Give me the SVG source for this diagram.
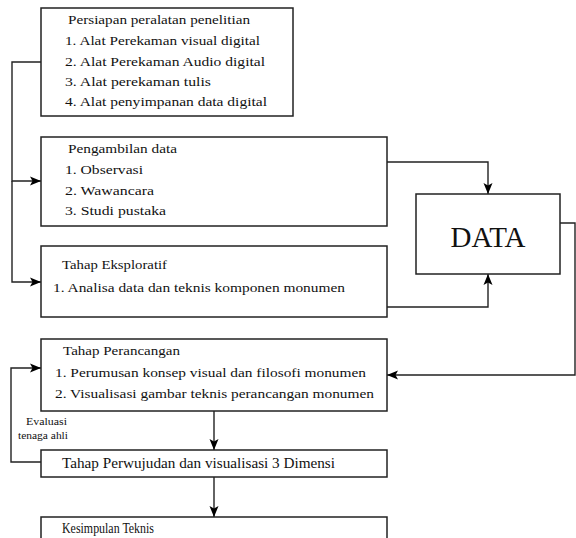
<svg xmlns="http://www.w3.org/2000/svg" width="576" height="538" viewBox="0 0 576 538">
<defs>
<marker id="ah" viewBox="0 0 11 10" refX="11" refY="5" markerWidth="11" markerHeight="10" markerUnits="userSpaceOnUse" orient="auto">
<path d="M0,0.5 L11,5 L0,9.5 L2.5,5 Z" fill="#000"/>
</marker>
</defs>
<style>
.box{fill:#fff;stroke:#222;stroke-width:1.5}
.t{font-family:"Liberation Serif","Times New Roman",serif;font-size:13px;fill:#111}
.p{font-family:"Liberation Serif","Times New Roman",serif;font-size:14.5px;fill:#111}
.s{font-family:"Liberation Serif",serif;font-size:10px;fill:#111}
.big{font-family:"Liberation Serif",serif;font-size:29px;fill:#111}
.c{fill:none;stroke:#222;stroke-width:1.4}
</style>
<rect width="576" height="538" fill="#fff"/>
<g id="connectors">
<path class="c" d="M41,62 H12 V181 H41" marker-end="url(#ah)"/>
<path class="c" d="M12,181 V282 H41" marker-end="url(#ah)"/>
<path class="c" d="M387,162 H488 V194" marker-end="url(#ah)"/>
<path class="c" d="M387,307 H488 V274" marker-end="url(#ah)"/>
<path class="c" d="M560,223 H575 V375 H387" marker-end="url(#ah)"/>
<path class="c" d="M214,411 V450" marker-end="url(#ah)"/>
<path class="c" d="M214,477 V517" marker-end="url(#ah)"/>
<path class="c" d="M41,462 H11 V368 H41" marker-end="url(#ah)"/>
<text class="s" x="26" y="425" textLength="41" lengthAdjust="spacingAndGlyphs">Evaluasi</text>
<text class="s" x="18" y="439" textLength="50" lengthAdjust="spacingAndGlyphs">tenaga ahli</text>
</g>
<g id="n1">
<rect class="box" x="41" y="8" width="252" height="108"/>
<text class="t" x="68" y="24" textLength="182" lengthAdjust="spacingAndGlyphs">Persiapan peralatan penelitian</text>
<text class="t" x="65" y="45" textLength="195" lengthAdjust="spacingAndGlyphs">1. Alat Perekaman visual digital</text>
<text class="t" x="65" y="66" textLength="200" lengthAdjust="spacingAndGlyphs">2. Alat Perekaman Audio digital</text>
<text class="t" x="65" y="86" textLength="146" lengthAdjust="spacingAndGlyphs">3. Alat perekaman tulis</text>
<text class="t" x="65" y="106" textLength="202" lengthAdjust="spacingAndGlyphs">4. Alat penyimpanan data digital</text>
</g>
<g id="n2">
<rect class="box" x="41" y="137" width="346" height="89"/>
<text class="t" x="68" y="153" textLength="109" lengthAdjust="spacingAndGlyphs">Pengambilan data</text>
<text class="t" x="65" y="174" textLength="78" lengthAdjust="spacingAndGlyphs">1. Observasi</text>
<text class="t" x="65" y="195" textLength="89" lengthAdjust="spacingAndGlyphs">2. Wawancara</text>
<text class="t" x="65" y="215" textLength="101" lengthAdjust="spacingAndGlyphs">3. Studi pustaka</text>
</g>
<g id="n3">
<rect class="box" x="41" y="246" width="346" height="71"/>
<text class="t" x="62" y="269" textLength="105" lengthAdjust="spacingAndGlyphs">Tahap Eksploratif</text>
<text class="t" x="53" y="292" textLength="292" lengthAdjust="spacingAndGlyphs">1. Analisa data dan teknis komponen monumen</text>
</g>
<g id="data">
<rect class="box" x="416" y="194" width="144" height="80"/>
<text class="big" x="488" y="247" text-anchor="middle">DATA</text>
</g>
<g id="n4">
<rect class="box" x="41" y="339" width="346" height="72"/>
<text class="t" x="63" y="355" textLength="117" lengthAdjust="spacingAndGlyphs">Tahap Perancangan</text>
<text class="t" x="55" y="377" textLength="311" lengthAdjust="spacingAndGlyphs">1. Perumusan konsep visual dan filosofi monumen</text>
<text class="t" x="55" y="398" textLength="319" lengthAdjust="spacingAndGlyphs">2. Visualisasi gambar teknis perancangan monumen</text>
</g>
<g id="n5">
<rect class="box" x="41" y="450" width="346" height="27"/>
<text class="p" x="62" y="468" textLength="273" lengthAdjust="spacingAndGlyphs">Tahap Perwujudan dan visualisasi 3 Dimensi</text>
</g>
<g id="n6">
<rect class="box" x="41" y="517" width="346" height="30"/>
<text class="p" x="62" y="533" textLength="92" lengthAdjust="spacingAndGlyphs">Kesimpulan Teknis</text>
</g>
</svg>
